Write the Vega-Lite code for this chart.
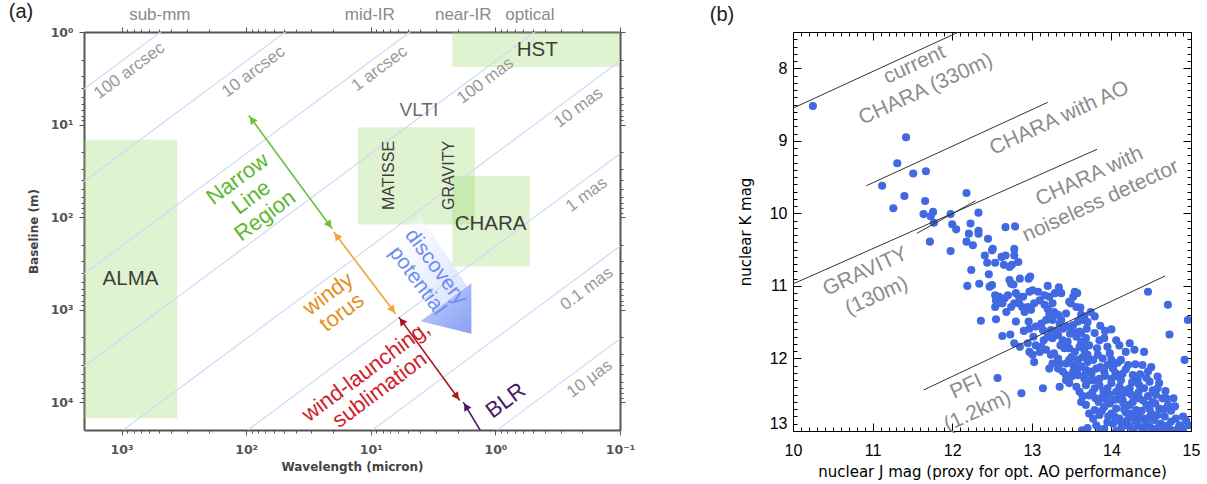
{
"$schema": "https://vega.github.io/schema/vega-lite/v6.json",
"background": "white",
"padding": {"left": 8, "top": 2, "right": 5, "bottom": 5},
"bounds": "flush",
"spacing": 173,
"config": {"view": {"stroke": null}, "axis": {"grid": false}},
"datasets": {
"boxes": [
{"name":"ALMA","lam1":2000,"lam2":357,"b1":14.6,"b2":14900},
{"name":"HST","lam1":2.22,"lam2":0.1,"b1":1,"b2":2.39},
{"name":"VLTI","lam1":12.7,"lam2":1.46,"b1":10.7,"b2":120},
{"name":"CHARA","lam1":2.22,"lam2":0.53,"b1":36,"b2":342}
],
"band": [{"lam1":5.26,"b1":127.3,"lam2":2.21,"b2":764}],
"reslines": [
{"res":"100 arcsec","lam":10000,"B":20.63},{"res":"100 arcsec","lam":0.01,"B":0.00002063},
{"res":"10 arcsec","lam":10000,"B":206.3},{"res":"10 arcsec","lam":0.01,"B":0.0002063},
{"res":"1 arcsec","lam":10000,"B":2063},{"res":"1 arcsec","lam":0.01,"B":0.002063},
{"res":"100 mas","lam":10000,"B":20630},{"res":"100 mas","lam":0.01,"B":0.02063},
{"res":"10 mas","lam":10000,"B":206300},{"res":"10 mas","lam":0.01,"B":0.2063},
{"res":"1 mas","lam":10000,"B":2063000},{"res":"1 mas","lam":0.01,"B":2.063},
{"res":"0.1 mas","lam":10000,"B":20630000},{"res":"0.1 mas","lam":0.01,"B":20.63},
{"res":"10 µas","lam":10000,"B":206300000},{"res":"10 µas","lam":0.01,"B":206.3}
],
"reslabels": [
{"text":"100 arcsec","lam":863,"B":2.62},
{"text":"10 arcsec","lam":87.3,"B":2.69},
{"text":"1 arcsec","lam":8.5,"B":2.49},
{"text":"100 mas","lam":1.2,"B":3.36},
{"text":"10 mas","lam":0.215,"B":6.58},
{"text":"1 mas","lam":0.185,"B":57.4},
{"text":"0.1 mas","lam":0.185,"B":596},
{"text":"10 µas","lam":0.175,"B":5600}
],
"boxlabels": [
{"text":"ALMA","lam":847,"B":464.5},
{"text":"HST","lam":0.461,"B":1.58},
{"text":"CHARA","lam":1.093,"B":118.1}
],
"vlti": [{"text":"VLTI","lam":4.11,"B":7.04}],
"vlabels": [
{"text":"MATISSE","lam":7.16,"B":35.5},
{"text":"GRAVITY","lam":2.36,"B":35.5}
],
"arrows": [
{"region":"NLR","lam1":95.1,"b1":7.97,"lam2":20.4,"b2":133.8},
{"region":"torus","lam1":19.8,"b1":145,"lam2":6.32,"b2":1110},
{"region":"wind","lam1":5.95,"b1":1205,"lam2":1.93,"b2":9610},
{"region":"BLR","lam1":1.315,"b1":20430,"lam2":1.81,"b2":10000}
],
"heads": [
{"region":"NLR","dir":"up","lam":89.7,"B":8.87},
{"region":"NLR","dir":"down","lam":21.5,"B":121},
{"region":"torus","dir":"up","lam":18.7,"B":160.5},
{"region":"torus","dir":"down","lam":6.68,"B":1005},
{"region":"wind","dir":"up","lam":5.63,"B":1331},
{"region":"wind","dir":"down","lam":2.04,"B":8700},
{"region":"BLR","dir":"up","lam":1.72,"B":11130}
],
"regions": [
{"region":"NLR","text":"Narrow\nLine\nRegion","lam":117.2,"B":38.5},
{"region":"torus","text":"windy\ntorus","lam":22.0,"B":675},
{"region":"wind","text":"wind-launching,\nsublimation","lam":10.95,"B":4645},
{"region":"BLR","text":"BLR","lam":0.828,"B":9610}
],
"discovery": [{"text":"discovery\npotential","lam":3.02,"B":347}],
"triangle": [{"lam":2.49,"B":973}],
"toplabels": [
{"text":"sub-mm","lam":492.6,"B":0.65},
{"text":"mid-IR","lam":10.17,"B":0.65},
{"text":"near-IR","lam":1.81,"B":0.65},
{"text":"optical","lam":0.529,"B":0.65}
],
"tagA": [{"text":"(a)","lam":8028,"B":0.608}],
"tagB": [{"text":"(b)","J":8.955,"K":7.263}],
"blines": [
{"name":"current CHARA","J1":10,"K1":8.55,"J2":12.08,"K2":7.5},
{"name":"CHARA with AO","J1":10.92,"K1":9.62,"J2":13.2,"K2":8.47},
{"name":"GRAVITY / noiseless","J1":10,"K1":10.973,"J2":13.82,"K2":9.117},
{"name":"short","J1":11.556,"K1":10.275,"J2":12.293,"K2":9.828},
{"name":"PFI","J1":11.64,"K1":12.435,"J2":14.674,"K2":10.863}
],
"blabels": [
{"text":"current\nCHARA (330m)","J":11.527,"K":7.952},
{"text":"CHARA with AO","J":13.347,"K":8.689},
{"text":"CHARA with\nnoiseless detector","J":13.724,"K":9.493},
{"text":"GRAVITY\n(130m)","J":10.909,"K":10.803},
{"text":"PFI\n(1.2km)","J":12.176,"K":12.39}
],
"pts": [
{"J":10.25,"K":8.52},{"J":11.42,"K":8.95},{"J":11.31,"K":9.31},{"J":11.51,"K":9.45},{"J":11.67,"K":9.42},{"J":11.12,"K":9.62},{"J":11.40,"K":9.76},{"J":11.66,"K":9.83},{"J":11.26,"K":9.93},{"J":11.64,"K":10.01},{"J":11.76,"K":9.98},{"J":11.73,"K":10.04},{"J":11.77,"K":10.13},{"J":11.98,"K":10.01},{"J":12.00,"K":10.15},{"J":12.05,"K":10.22},{"J":12.18,"K":9.72},{"J":12.33,"K":9.99},{"J":12.23,"K":10.14},{"J":12.21,"K":10.28},{"J":12.33,"K":10.24},{"J":12.33,"K":10.28},{"J":12.18,"K":10.39},{"J":12.26,"K":10.44},{"J":12.45,"K":10.35},{"J":12.67,"K":10.19},{"J":12.79,"K":10.18},{"J":12.78,"K":10.49},{"J":12.51,"K":10.49},{"J":11.72,"K":10.39},{"J":11.98,"K":10.52},
{"J":12.50,"K":10.51},{"J":12.41,"K":10.58},{"J":12.44,"K":10.68},{"J":12.54,"K":10.68},{"J":12.62,"K":10.60},{"J":12.67,"K":10.58},{"J":12.78,"K":10.58},{"J":12.65,"K":10.71},{"J":12.72,"K":10.74},{"J":12.75,"K":10.71},{"J":12.83,"K":10.67},{"J":12.24,"K":10.78},{"J":12.46,"K":10.84},{"J":12.19,"K":11.00},{"J":12.34,"K":10.97},{"J":12.50,"K":10.99},{"J":12.47,"K":11.01},{"J":12.72,"K":10.92},{"J":12.74,"K":10.97},{"J":12.77,"K":10.98},{"J":12.85,"K":10.90},{"J":12.96,"K":10.90},{"J":12.98,"K":10.87},{"J":13.20,"K":11.00},{"J":13.34,"K":11.02},{"J":13.35,"K":11.08},{"J":13.37,"K":11.10},{"J":13.54,"K":11.08},{"J":13.57,"K":11.10},{"J":13.52,"K":11.15},{"J":14.46,"K":11.08},
{"J":12.54,"K":11.13},{"J":12.59,"K":11.15},{"J":12.57,"K":11.24},{"J":12.62,"K":11.22},{"J":12.66,"K":11.17},{"J":12.70,"K":11.13},{"J":12.84,"K":11.15},{"J":12.80,"K":11.10},{"J":12.89,"K":11.15},{"J":12.97,"K":11.08},{"J":13.01,"K":11.06},{"J":13.08,"K":11.08},{"J":13.16,"K":11.13},{"J":13.22,"K":11.15},{"J":13.29,"K":11.10},{"J":13.47,"K":11.22},
{"J":12.55,"K":11.20},{"J":12.63,"K":11.24},{"J":12.54,"K":11.29},{"J":12.68,"K":11.36},{"J":12.74,"K":11.29},{"J":12.78,"K":11.24},{"J":12.84,"K":11.24},{"J":12.88,"K":11.29},{"J":12.91,"K":11.36},{"J":12.95,"K":11.29},{"J":12.99,"K":11.33},{"J":13.03,"K":11.24},{"J":13.10,"K":11.20},{"J":13.16,"K":11.26},{"J":13.20,"K":11.32},{"J":13.26,"K":11.24},{"J":13.28,"K":11.36},{"J":13.33,"K":11.40},{"J":13.22,"K":11.40},{"J":13.37,"K":11.47},{"J":13.43,"K":11.38},{"J":13.49,"K":11.24},{"J":13.56,"K":11.29},{"J":13.61,"K":11.30},{"J":13.66,"K":11.42},{"J":13.79,"K":11.42},{"J":14.71,"K":11.26},
{"J":12.36,"K":11.48},{"J":12.55,"K":11.46},{"J":12.80,"K":11.49},{"J":12.96,"K":11.49},{"J":12.97,"K":11.59},{"J":13.05,"K":11.56},{"J":13.12,"K":11.52},{"J":13.18,"K":11.47},{"J":13.26,"K":11.47},{"J":13.35,"K":11.52},{"J":13.39,"K":11.59},{"J":13.45,"K":11.56},{"J":13.52,"K":11.54},{"J":13.58,"K":11.49},{"J":13.64,"K":11.47},{"J":13.14,"K":11.61},{"J":13.24,"K":11.61},{"J":13.52,"K":11.63},{"J":13.60,"K":11.63},{"J":13.69,"K":11.59},{"J":14.96,"K":11.47},
{"J":12.63,"K":11.69},{"J":12.73,"K":11.67},{"J":12.78,"K":11.79},{"J":12.85,"K":11.84},{"J":12.95,"K":11.79},{"J":13.05,"K":11.82},{"J":13.12,"K":11.84},{"J":13.20,"K":11.70},{"J":13.26,"K":11.72},{"J":13.33,"K":11.68},{"J":13.39,"K":11.75},{"J":13.45,"K":11.77},{"J":13.56,"K":11.70},{"J":13.62,"K":11.65},{"J":13.68,"K":11.72},{"J":13.79,"K":11.65},{"J":13.85,"K":11.75},{"J":13.91,"K":11.72},{"J":14.06,"K":11.75},
{"J":12.97,"K":11.91},{"J":13.01,"K":11.95},{"J":13.03,"K":12.05},{"J":13.10,"K":11.91},{"J":13.18,"K":11.88},{"J":13.24,"K":11.95},{"J":13.28,"K":11.93},{"J":13.33,"K":12.00},{"J":13.35,"K":12.07},{"J":13.41,"K":11.86},{"J":13.47,"K":11.86},{"J":13.54,"K":11.91},{"J":13.60,"K":11.84},{"J":13.66,"K":11.88},{"J":13.70,"K":11.95},{"J":13.72,"K":11.82},{"J":13.77,"K":12.02},{"J":13.83,"K":11.95},{"J":13.89,"K":12.00},{"J":13.95,"K":11.84},{"J":14.00,"K":12.02},{"J":14.04,"K":12.07},{"J":14.18,"K":11.91},{"J":14.29,"K":11.88},{"J":14.41,"K":11.91},{"J":14.73,"K":11.67},{"J":14.92,"K":12.02},{"J":14.23,"K":11.79},{"J":14.12,"K":12.02},{"J":13.64,"K":11.98},{"J":13.58,"K":12.02},{"J":13.47,"K":12.02},{"J":13.43,"K":12.07},{"J":13.52,"K":12.09},{"J":13.26,"K":12.07},{"J":13.22,"K":12.14},{"J":13.33,"K":12.14},
{"J":12.57,"K":12.27},{"J":13.14,"K":12.41},{"J":12.87,"K":12.48},{"J":13.39,"K":12.18},{"J":13.43,"K":12.23},{"J":13.52,"K":12.18},{"J":13.58,"K":12.23},{"J":13.62,"K":12.11},{"J":13.68,"K":12.16},{"J":13.75,"K":12.21},{"J":13.81,"K":12.14},{"J":13.85,"K":12.28},{"J":13.91,"K":12.18},{"J":13.95,"K":12.09},{"J":14.02,"K":12.14},{"J":14.08,"K":12.25},{"J":14.14,"K":12.21},{"J":14.21,"K":12.09},{"J":14.27,"K":12.23},{"J":14.33,"K":12.30},{"J":14.39,"K":12.09},{"J":14.46,"K":12.18},
{"J":13.47,"K":12.34},{"J":13.56,"K":12.39},{"J":13.60,"K":12.46},{"J":13.68,"K":12.37},{"J":13.72,"K":12.51},{"J":13.79,"K":12.41},{"J":13.85,"K":12.37},{"J":13.89,"K":12.53},{"J":13.95,"K":12.41},{"J":14.00,"K":12.34},{"J":14.06,"K":12.46},{"J":14.10,"K":12.39},{"J":14.16,"K":12.44},{"J":14.23,"K":12.41},{"J":14.31,"K":12.51},{"J":14.35,"K":12.37},{"J":14.41,"K":12.41},{"J":14.48,"K":12.32},{"J":14.52,"K":12.44},{"J":14.58,"K":12.41},{"J":14.60,"K":12.34},{"J":14.64,"K":12.55},{"J":13.66,"K":12.28},{"J":13.43,"K":12.30},{"J":13.35,"K":12.39},
{"J":13.62,"K":12.60},{"J":13.68,"K":12.64},{"J":13.79,"K":12.71},{"J":13.85,"K":12.78},{"J":13.91,"K":12.67},{"J":13.95,"K":12.60},{"J":14.00,"K":12.76},{"J":14.06,"K":12.69},{"J":14.10,"K":12.83},{"J":14.14,"K":12.57},{"J":14.18,"K":12.74},{"J":14.23,"K":12.64},{"J":14.27,"K":12.80},{"J":14.31,"K":12.71},{"J":14.35,"K":12.55},{"J":14.39,"K":12.83},{"J":14.44,"K":12.64},{"J":14.50,"K":12.76},{"J":14.54,"K":12.85},{"J":14.60,"K":12.69},{"J":14.67,"K":12.80},{"J":14.71,"K":12.64},{"J":14.75,"K":12.87},{"J":14.81,"K":12.83},{"J":14.85,"K":12.94},
{"J":13.81,"K":12.92},{"J":13.91,"K":12.97},{"J":14.02,"K":12.90},{"J":14.12,"K":12.97},{"J":14.23,"K":12.94},{"J":14.33,"K":12.92},{"J":14.41,"K":12.97},{"J":14.48,"K":12.94},{"J":14.56,"K":12.97},{"J":14.64,"K":12.99},{"J":14.73,"K":12.97},{"J":14.81,"K":12.99},{"J":14.90,"K":12.97},{"J":14.97,"K":12.92},{"J":13.63,"K":12.99},{"J":13.77,"K":12.83},{"J":14.04,"K":12.57},{"J":14.27,"K":12.60},{"J":14.52,"K":12.60},{"J":14.69,"K":12.55},
{"J":13.70,"K":12.05},{"J":13.74,"K":12.30},{"J":13.90,"K":12.45},{"J":14.12,"K":12.30},{"J":14.25,"K":12.50},{"J":14.38,"K":12.72},{"J":13.98,"K":12.62},{"J":14.20,"K":12.85},{"J":14.44,"K":12.88},{"J":13.86,"K":12.12},{"J":13.62,"K":11.77},{"J":13.50,"K":11.98},{"J":14.05,"K":12.20},{"J":14.30,"K":12.08},{"J":14.55,"K":12.62},{"J":14.62,"K":12.90},{"J":14.75,"K":12.72},{"J":13.95,"K":12.88},{"J":14.15,"K":12.62},{"J":13.80,"K":12.55},
{"J":13.30,"K":11.62},{"J":13.48,"K":11.66},{"J":13.66,"K":11.80},{"J":13.82,"K":11.86},{"J":13.98,"K":11.93},{"J":14.10,"K":11.82},{"J":13.36,"K":11.82},{"J":13.15,"K":11.75},{"J":12.90,"K":11.62},{"J":13.02,"K":11.70},
{"J":13.58,"K":12.14},{"J":13.74,"K":12.18},{"J":13.92,"K":12.24},{"J":14.08,"K":12.06},{"J":14.18,"K":12.15},{"J":14.36,"K":12.22},{"J":14.50,"K":12.12},{"J":13.66,"K":12.24},{"J":13.80,"K":12.30},{"J":14.00,"K":12.28},{"J":14.26,"K":12.33},{"J":14.44,"K":12.27},{"J":14.58,"K":12.25},{"J":13.50,"K":12.25},
{"J":13.64,"K":12.52},{"J":13.76,"K":12.47},{"J":13.84,"K":12.60},{"J":13.98,"K":12.50},{"J":14.08,"K":12.56},{"J":14.20,"K":12.47},{"J":14.34,"K":12.47},{"J":14.46,"K":12.52},{"J":14.56,"K":12.50},{"J":14.68,"K":12.45},{"J":14.78,"K":12.55},{"J":14.40,"K":12.58},{"J":14.14,"K":12.48},{"J":13.92,"K":12.55},
{"J":13.72,"K":12.76},{"J":13.88,"K":12.72},{"J":14.04,"K":12.80},{"J":14.16,"K":12.70},{"J":14.24,"K":12.76},{"J":14.34,"K":12.78},{"J":14.48,"K":12.70},{"J":14.58,"K":12.78},{"J":14.66,"K":12.70},{"J":14.80,"K":12.66},{"J":14.90,"K":12.80},{"J":13.96,"K":12.80},{"J":14.12,"K":12.88},{"J":14.30,"K":12.86},{"J":14.46,"K":12.82},
{"J":13.70,"K":12.96},{"J":13.86,"K":12.98},{"J":14.06,"K":13.0},{"J":14.18,"K":12.92},{"J":14.28,"K":12.99},{"J":14.38,"K":12.95},{"J":14.52,"K":12.99},{"J":14.60,"K":12.94},{"J":14.70,"K":12.93},{"J":14.86,"K":12.92},{"J":14.94,"K":12.86},
{"J":13.70,"K":11.50},{"J":13.74,"K":11.36},{"J":13.86,"K":11.55},{"J":13.92,"K":11.62},{"J":14.00,"K":11.60},{"J":13.62,"K":11.40}
]
},
"hconcat": [
{
"width": 536, "height": 398,
"resolve": {"axis": {"x": "independent", "y": "independent"}, "scale": {"color": "independent"}},
"layer": [
{"data": {"name": "boxes"},
 "mark": {"type": "rect", "color": "#94d762", "opacity": 0.3},
 "encoding": {
  "x": {"field": "lam1", "type": "quantitative", "scale": {"type": "log", "domain": [0.1, 2000], "reverse": true, "nice": false},
   "axis": {"orient": "bottom", "values": [0.1, 1, 10, 100, 1000], "labelExpr": "datum.value < 0.5 ? '10⁻¹' : datum.value < 5 ? '10⁰' : datum.value < 50 ? '10¹' : datum.value < 500 ? '10²' : datum.value < 5000 ? '10³' : '10⁴'", "labelFlush": false, "labelOverlap": false, "title": "Wavelength (micron)", "tickSize": 5, "tickColor": "#555", "domainColor": "#555", "domainWidth": 2, "labelFont": "DejaVu Sans", "labelFontWeight": "bold", "labelFontSize": 12.5, "labelColor": "#555", "labelPadding": 8, "titleFont": "DejaVu Sans", "titleFontWeight": "bold", "titleFontSize": 12, "titleColor": "#444", "titlePadding": 6}},
  "x2": {"field": "lam2"},
  "y": {"field": "b1", "type": "quantitative", "scale": {"type": "log", "domain": [1, 20000], "reverse": true, "nice": false},
   "axis": {"orient": "left", "values": [1, 10, 100, 1000, 10000], "labelExpr": "datum.value < 0.5 ? '10⁻¹' : datum.value < 5 ? '10⁰' : datum.value < 50 ? '10¹' : datum.value < 500 ? '10²' : datum.value < 5000 ? '10³' : '10⁴'", "labelFlush": false, "labelOverlap": false, "title": "Baseline (m)", "tickSize": 5, "tickColor": "#555", "domainColor": "#555", "domainWidth": 2, "labelFont": "DejaVu Sans", "labelFontWeight": "bold", "labelFontSize": 12.5, "labelColor": "#555", "labelPadding": 6, "titleFont": "DejaVu Sans", "titleFontWeight": "bold", "titleFontSize": 12, "titleColor": "#444", "titlePadding": 10}},
  "y2": {"field": "b2"}
 }},
{"data": {"name": "band"},
 "mark": {"type": "rule", "strokeWidth": 38, "strokeCap": "butt", "opacity": 0.45, "stroke": {"gradient": "linear", "x1": 0, "y1": 0, "x2": 1, "y2": 1, "stops": [{"offset": 0, "color": "#ffffff"}, {"offset": 1, "color": "#b8c8fa"}]}},
 "encoding": {
  "x": {"field": "lam1", "type": "quantitative", "scale": {"type": "log", "domain": [0.1, 2000], "reverse": true, "nice": false},
   "axis": {"orient": "top", "values": [0.1, 1, 10, 100, 1000], "labels": false, "title": null, "tickSize": 5, "tickColor": "#555", "domainColor": "#555", "domainWidth": 2}},
  "x2": {"field": "lam2"},
  "y": {"field": "b1", "type": "quantitative", "scale": {"type": "log", "domain": [1, 20000], "reverse": true, "nice": false},
   "axis": {"orient": "right", "values": [1, 10, 100, 1000, 10000], "labels": false, "title": null, "tickSize": 5, "tickColor": "#555", "domainColor": "#555", "domainWidth": 2}},
  "y2": {"field": "b2"}
 }},
{"data": {"name": "reslines"},
 "mark": {"type": "line", "clip": true, "stroke": "#d0d9f7", "strokeWidth": 1.2},
 "encoding": {
  "x": {"field": "lam", "type": "quantitative", "scale": {"type": "log", "domain": [0.1, 2000], "reverse": true, "nice": false},
   "axis": {"orient": "bottom", "values": [0.2,0.3,0.4,0.5,0.6,0.7,0.8,0.9,2,3,4,5,6,7,8,9,20,30,40,50,60,70,80,90,200,300,400,500,600,700,800,900], "labels": false, "domain": false, "title": null, "tickSize": 3, "tickColor": "#555"}},
  "y": {"field": "B", "type": "quantitative", "scale": {"type": "log", "domain": [1, 20000], "reverse": true, "nice": false},
   "axis": {"orient": "left", "values": [2,3,4,5,6,7,8,9,20,30,40,50,60,70,80,90,200,300,400,500,600,700,800,900,2000,3000,4000,5000,6000,7000,8000,9000], "labels": false, "domain": false, "title": null, "tickSize": 3, "tickColor": "#555"}},
  "detail": {"field": "res"}
 }},
{"data": {"name": "reslabels"},
 "mark": {"type": "text", "angle": 323.4, "font": "Liberation Sans", "fontSize": 17, "color": "#999999", "align": "center", "baseline": "middle"},
 "encoding": {
  "x": {"field": "lam", "type": "quantitative", "scale": {"type": "log", "domain": [0.1, 2000], "reverse": true, "nice": false},
   "axis": {"orient": "top", "values": [0.2,0.3,0.4,0.5,0.6,0.7,0.8,0.9,2,3,4,5,6,7,8,9,20,30,40,50,60,70,80,90,200,300,400,500,600,700,800,900], "labels": false, "domain": false, "title": null, "tickSize": 3, "tickColor": "#555"}},
  "y": {"field": "B", "type": "quantitative", "scale": {"type": "log", "domain": [1, 20000], "reverse": true, "nice": false},
   "axis": {"orient": "right", "values": [2,3,4,5,6,7,8,9,20,30,40,50,60,70,80,90,200,300,400,500,600,700,800,900,2000,3000,4000,5000,6000,7000,8000,9000], "labels": false, "domain": false, "title": null, "tickSize": 3, "tickColor": "#555"}},
  "text": {"field": "text"}
 }},
{"data": {"name": "boxlabels"},
 "mark": {"type": "text", "font": "Liberation Sans", "fontSize": 20.5, "color": "#3d3d3d", "align": "center", "baseline": "middle"},
 "encoding": {
  "x": {"field": "lam", "type": "quantitative", "axis": null},
  "y": {"field": "B", "type": "quantitative", "axis": null},
  "text": {"field": "text"}
 }},
{"data": {"name": "vlti"},
 "mark": {"type": "text", "font": "Liberation Sans", "fontSize": 19, "color": "#6b6b6b", "align": "center", "baseline": "middle"},
 "encoding": {
  "x": {"field": "lam", "type": "quantitative", "axis": null},
  "y": {"field": "B", "type": "quantitative", "axis": null},
  "text": {"field": "text"}
 }},
{"data": {"name": "vlabels"},
 "mark": {"type": "text", "angle": 270, "font": "Liberation Sans", "fontSize": 16, "color": "#3d3d3d", "align": "center", "baseline": "middle"},
 "encoding": {
  "x": {"field": "lam", "type": "quantitative", "axis": null},
  "y": {"field": "B", "type": "quantitative", "axis": null},
  "text": {"field": "text"}
 }},
{"data": {"name": "triangle"},
 "mark": {"type": "point", "shape": "M-1,0.5L1,-1L1,1Z", "size": 2570, "filled": true, "opacity": 1, "strokeWidth": 0, "fill": {"gradient": "linear", "x1": 0, "y1": 0, "x2": 1, "y2": 1, "stops": [{"offset": 0, "color": "#c2d0fb"}, {"offset": 1, "color": "#8aa1f4"}]}},
 "encoding": {
  "x": {"field": "lam", "type": "quantitative", "axis": null},
  "y": {"field": "B", "type": "quantitative", "axis": null}
 }},
{"data": {"name": "arrows"},
 "mark": {"type": "rule", "strokeWidth": 1.6, "clip": true},
 "encoding": {
  "x": {"field": "lam1", "type": "quantitative", "axis": null},
  "x2": {"field": "lam2"},
  "y": {"field": "b1", "type": "quantitative", "axis": null},
  "y2": {"field": "b2"},
  "color": {"field": "region", "type": "nominal", "legend": null, "scale": {"domain": ["NLR", "torus", "wind", "BLR"], "range": ["#6cbf43", "#eba53a", "#a3161c", "#4a1768"]}}
 }},
{"data": {"name": "heads"},
 "transform": [{"filter": "datum.dir == 'up' && datum.region != 'BLR'"}],
 "mark": {"type": "point", "shape": "triangle-up", "filled": true, "size": 70, "opacity": 1, "angle": 323.6},
 "encoding": {
  "x": {"field": "lam", "type": "quantitative", "axis": null},
  "y": {"field": "B", "type": "quantitative", "axis": null},
  "color": {"field": "region", "type": "nominal", "legend": null, "scale": {"domain": ["NLR", "torus", "wind", "BLR"], "range": ["#6cbf43", "#eba53a", "#a3161c", "#4a1768"]}}
 }},
{"data": {"name": "heads"},
 "transform": [{"filter": "datum.dir == 'down'"}],
 "mark": {"type": "point", "shape": "triangle-up", "filled": true, "size": 70, "opacity": 1, "angle": 143.6},
 "encoding": {
  "x": {"field": "lam", "type": "quantitative", "axis": null},
  "y": {"field": "B", "type": "quantitative", "axis": null},
  "color": {"field": "region", "type": "nominal", "legend": null, "scale": {"domain": ["NLR", "torus", "wind", "BLR"], "range": ["#6cbf43", "#eba53a", "#a3161c", "#4a1768"]}}
 }},
{"data": {"name": "heads"},
 "transform": [{"filter": "datum.region == 'BLR'"}],
 "mark": {"type": "point", "shape": "triangle-up", "filled": true, "size": 70, "opacity": 1, "angle": 329},
 "encoding": {
  "x": {"field": "lam", "type": "quantitative", "axis": null},
  "y": {"field": "B", "type": "quantitative", "axis": null},
  "color": {"field": "region", "type": "nominal", "legend": null, "scale": {"domain": ["NLR", "torus", "wind", "BLR"], "range": ["#6cbf43", "#eba53a", "#a3161c", "#4a1768"]}}
 }},
{"data": {"name": "regions"},
 "mark": {"type": "text", "angle": 323.4, "font": "Liberation Sans", "fontSize": 22, "lineHeight": 23, "lineBreak": "\n", "align": "center", "baseline": "middle"},
 "encoding": {
  "x": {"field": "lam", "type": "quantitative", "axis": null},
  "y": {"field": "B", "type": "quantitative", "axis": null},
  "text": {"field": "text"},
  "color": {"field": "region", "type": "nominal", "legend": null, "scale": {"domain": ["NLR", "torus", "wind", "BLR"], "range": ["#5db82f", "#e3901c", "#d01c2c", "#4a1768"]}}
 }},
{"data": {"name": "discovery"},
 "mark": {"type": "text", "angle": 53.4, "font": "Liberation Sans", "fontSize": 21, "lineHeight": 23, "lineBreak": "\n", "color": "#6d8cf0", "align": "center", "baseline": "middle"},
 "encoding": {
  "x": {"field": "lam", "type": "quantitative", "axis": null},
  "y": {"field": "B", "type": "quantitative", "axis": null},
  "text": {"field": "text"}
 }},
{"data": {"name": "toplabels"},
 "mark": {"type": "text", "font": "Liberation Sans", "fontSize": 17, "color": "#8a8a8a", "align": "center", "baseline": "middle"},
 "encoding": {
  "x": {"field": "lam", "type": "quantitative", "axis": null},
  "y": {"field": "B", "type": "quantitative", "axis": null},
  "text": {"field": "text"}
 }},
{"data": {"name": "tagA"},
 "mark": {"type": "text", "font": "Liberation Sans", "fontSize": 20, "color": "#222", "align": "left", "baseline": "middle"},
 "encoding": {
  "x": {"field": "lam", "type": "quantitative", "axis": null},
  "y": {"field": "B", "type": "quantitative", "axis": null},
  "text": {"field": "text"}
 }}
]
},
{
"width": 398, "height": 399,
"resolve": {"axis": {"x": "independent", "y": "independent"}},
"layer": [
{"data": {"name": "pts"},
 "mark": {"type": "circle", "size": 66, "color": "#4169e1", "opacity": 1, "clip": true},
 "encoding": {
  "x": {"field": "J", "type": "quantitative", "scale": {"domain": [10, 15], "nice": false, "zero": false},
   "axis": {"orient": "bottom", "values": [10, 11, 12, 13, 14, 15], "format": "d", "ticks": false, "domainColor": "black", "domainWidth": 1, "labelFont": "Liberation Sans", "labelFontSize": 16, "labelColor": "black", "labelPadding": 11, "labelFlush": false, "title": "nuclear J mag (proxy for opt. AO performance)", "titleFont": "DejaVu Sans", "titleFontSize": 15, "titleFontWeight": "normal", "titleColor": "black", "titlePadding": 6}},
  "y": {"field": "K", "type": "quantitative", "scale": {"domain": [7.5, 13], "nice": false, "zero": false, "reverse": true},
   "axis": {"orient": "left", "values": [8, 9, 10, 11, 12, 13], "format": "d", "ticks": false, "domainColor": "black", "domainWidth": 1, "labelFont": "Liberation Sans", "labelFontSize": 16, "labelColor": "black", "labelPadding": 6, "labelFlush": true, "title": "nuclear K mag", "titleFont": "DejaVu Sans", "titleFontSize": 15, "titleFontWeight": "normal", "titleColor": "black", "titlePadding": 16}}
 }},
{"data": {"name": "blines"},
 "mark": {"type": "rule", "color": "#333", "strokeWidth": 1, "clip": true},
 "encoding": {
  "x": {"field": "J1", "type": "quantitative", "scale": {"domain": [10, 15], "nice": false, "zero": false},
   "axis": {"orient": "bottom", "values": [10, 11, 12, 13, 14, 15], "labels": false, "domain": false, "title": null, "tickSize": -8, "tickColor": "black"}},
  "x2": {"field": "J2"},
  "y": {"field": "K1", "type": "quantitative", "scale": {"domain": [7.5, 13], "nice": false, "zero": false, "reverse": true},
   "axis": {"orient": "left", "values": [8, 9, 10, 11, 12, 13], "labels": false, "domain": false, "title": null, "tickSize": -8, "tickColor": "black"}},
  "y2": {"field": "K2"}
 }},
{"data": {"name": "blabels"},
 "transform": [{"filter": "datum.text == 'CHARA with AO'"}],
 "mark": {"type": "text", "angle": 335.3, "font": "Liberation Sans", "fontSize": 21, "lineHeight": 27, "lineBreak": "\n", "color": "#8c8c8c", "align": "center", "baseline": "middle"},
 "encoding": {
  "x": {"field": "J", "type": "quantitative", "scale": {"domain": [10, 15], "nice": false, "zero": false},
   "axis": {"orient": "bottom", "values": [10.1,10.2,10.3,10.4,10.5,10.6,10.7,10.8,10.9,11.1,11.2,11.3,11.4,11.5,11.6,11.7,11.8,11.9,12.1,12.2,12.3,12.4,12.5,12.6,12.7,12.8,12.9,13.1,13.2,13.3,13.4,13.5,13.6,13.7,13.8,13.9,14.1,14.2,14.3,14.4,14.5,14.6,14.7,14.8,14.9], "labels": false, "domain": false, "title": null, "tickSize": -4, "tickColor": "black"}},
  "y": {"field": "K", "type": "quantitative", "scale": {"domain": [7.5, 13], "nice": false, "zero": false, "reverse": true},
   "axis": {"orient": "left", "values": [7.6,7.7,7.8,7.9,8.1,8.2,8.3,8.4,8.5,8.6,8.7,8.8,8.9,9.1,9.2,9.3,9.4,9.5,9.6,9.7,9.8,9.9,10.1,10.2,10.3,10.4,10.5,10.6,10.7,10.8,10.9,11.1,11.2,11.3,11.4,11.5,11.6,11.7,11.8,11.9,12.1,12.2,12.3,12.4,12.5,12.6,12.7,12.8,12.9], "labels": false, "domain": false, "title": null, "tickSize": -4, "tickColor": "black"}},
  "text": {"field": "text"}
 }},
{"data": {"name": "blabels"},
 "transform": [{"filter": "datum.text != 'CHARA with AO'"}],
 "mark": {"type": "text", "angle": 335.3, "font": "Liberation Sans", "fontSize": 21, "lineHeight": 27, "lineBreak": "\n", "color": "#8c8c8c", "align": "center", "baseline": "middle"},
 "encoding": {
  "x": {"field": "J", "type": "quantitative", "scale": {"domain": [10, 15], "nice": false, "zero": false},
   "axis": {"orient": "top", "values": [10, 11, 12, 13, 14, 15], "labels": false, "domain": true, "domainColor": "black", "domainWidth": 1, "title": null, "tickSize": -8, "tickColor": "black"}},
  "y": {"field": "K", "type": "quantitative", "scale": {"domain": [7.5, 13], "nice": false, "zero": false, "reverse": true},
   "axis": {"orient": "right", "values": [8, 9, 10, 11, 12, 13], "labels": false, "domain": true, "domainColor": "black", "domainWidth": 1, "title": null, "tickSize": -8, "tickColor": "black"}},
  "text": {"field": "text"}
 }},
{"data": {"name": "tagB"},
 "mark": {"type": "text", "font": "Liberation Sans", "fontSize": 20, "color": "#222", "align": "left", "baseline": "middle"},
 "encoding": {
  "x": {"field": "J", "type": "quantitative", "scale": {"domain": [10, 15], "nice": false, "zero": false},
   "axis": {"orient": "top", "values": [10.1,10.2,10.3,10.4,10.5,10.6,10.7,10.8,10.9,11.1,11.2,11.3,11.4,11.5,11.6,11.7,11.8,11.9,12.1,12.2,12.3,12.4,12.5,12.6,12.7,12.8,12.9,13.1,13.2,13.3,13.4,13.5,13.6,13.7,13.8,13.9,14.1,14.2,14.3,14.4,14.5,14.6,14.7,14.8,14.9], "labels": false, "domain": false, "title": null, "tickSize": -4, "tickColor": "black"}},
  "y": {"field": "K", "type": "quantitative", "scale": {"domain": [7.5, 13], "nice": false, "zero": false, "reverse": true},
   "axis": {"orient": "right", "values": [7.6,7.7,7.8,7.9,8.1,8.2,8.3,8.4,8.5,8.6,8.7,8.8,8.9,9.1,9.2,9.3,9.4,9.5,9.6,9.7,9.8,9.9,10.1,10.2,10.3,10.4,10.5,10.6,10.7,10.8,10.9,11.1,11.2,11.3,11.4,11.5,11.6,11.7,11.8,11.9,12.1,12.2,12.3,12.4,12.5,12.6,12.7,12.8,12.9], "labels": false, "domain": false, "title": null, "tickSize": -4, "tickColor": "black"}},
  "text": {"field": "text"}
 }}
]
}
]
}
